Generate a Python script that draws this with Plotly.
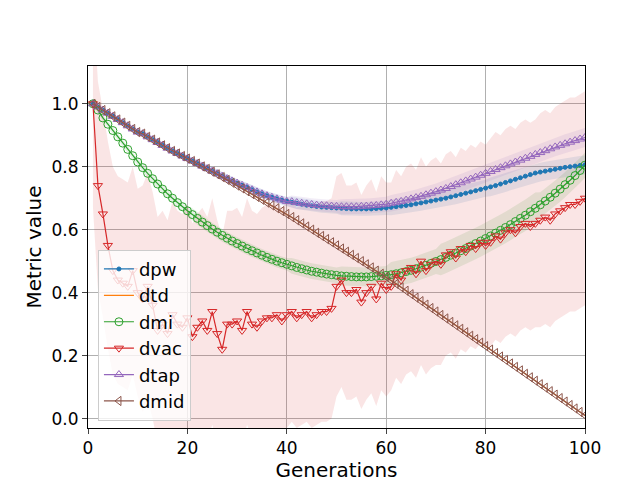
import plotly.graph_objects as go

generations = list(range(1, 101))

dpw = [1.0, .99, .98, .97, .96, .95, .94, .93, .92, .91,
       .905, .895, .886, .877, .868, .859, .85, .842, .834, .826,
       .818, .81, .802, .794, .786, .778, .77, .762, .755, .748,
       .741, .734, .727, .72, .714, .708, .703, .698, .694, .69,
       .687, .684, .681, .678, .676, .674, .672, .671, .67, .669,
       .668, .667, .666, .666, .666, .666, .666, .667, .668, .669,
       .671, .673, .675, .677, .679, .682, .685, .688, .691, .694,
       .697, .700, .704, .708, .712, .716, .72, .724, .728, .732,
       .736, .74, .745, .75, .755, .76, .765, .77, .775, .78,
       .783, .786, .789, .792, .795, .798, .80, .802, .804, .806]

dmid = [1.00, .99, .98, .97, .96, .95, .94, .93, .92, .91,
        .905, .895, .886, .877, .868, .859, .85, .842, .834, .826,
        .818, .81, .801, .793, .784, .776, .767, .758, .749, .74,
        .731, .722, .713, .704, .695, .686, .677, .668, .659, .65,
        .64, .63, .62, .61, .60, .59, .58, .57, .56, .55,
        .54, .53, .52, .51, .50, .49, .48, .47, .46, .45,
        .439, .428, .417, .406, .395, .384, .373, .362, .351, .34,
        .329, .318, .307, .296, .285, .274, .263, .252, .241, .23,
        .219, .208, .197, .186, .175, .164, .153, .142, .131, .12,
        .109, .098, .087, .076, .065, .054, .043, .032, .021, .01]

dtd = [1.00, .99, .98, .97, .96, .95, .94, .93, .92, .91,
       .905, .895, .886, .877, .868, .859, .85, .842, .834, .826,
       .818, .81, .801, .793, .784, .776, .767, .758, .749, .74,
       .731, .722, .713, .704, .695, .686, .677, .668, .659, .65,
       .64, .63, .62, .61, .60, .59, .58, .57, .56, .55,
       .54, .53, .52, .51, .50, .49, .48, .47, .46, .45,
       .439, .428, .417, .406, .395, .384, .373, .362, .351, .34,
       .329, .318, .307, .296, .285, .274, .263, .252, .241, .23,
       .219, .208, .197, .186, .175, .164, .153, .142, .131, .12,
       .109, .098, .087, .076, .065, .054, .043, .032, .021, .01]

dtap = [1.0, .99, .98, .97, .96, .95, .94, .93, .92, .91,
        .905, .895, .886, .877, .868, .859, .85, .842, .834, .826,
        .818, .81, .802, .794, .786, .778, .77, .762, .755, .748,
        .741, .734, .727, .72, .714, .708, .703, .698, .694, .69,
        .689, .686, .684, .682, .68, .678, .677, .676, .675, .674,
        .673, .673, .673, .673, .674, .675, .676, .677, .679, .681,
        .684, .687, .690, .694, .698, .702, .706, .711, .716, .721,
        .726, .731, .737, .743, .749, .755, .761, .767, .773, .779,
        .785, .791, .797, .803, .809, .815, .821, .827, .833, .839,
        .845, .851, .857, .863, .868, .873, .878, .883, .888, .893]

dmi = [1.0, .98, .955, .935, .915, .895, .875, .855, .835, .815,
       .797, .779, .762, .745, .729, .714, .70, .686, .673, .66,
       .648, .636, .624, .613, .602, .592, .582, .573, .564, .556,
       .548, .54, .533, .526, .519, .512, .506, .50, .495, .49,
       .485, .48, .476, .472, .468, .465, .462, .459, .457, .455,
       .453, .452, .451, .45, .45, .45, .451, .452, .453, .455,
       .457, .46, .463, .467, .471, .476, .481, .487, .493, .499,
       .505, .512, .519, .526, .533, .54, .548, .556, .564, .572,
       .58, .589, .598, .607, .616, .626, .636, .646, .657, .668,
       .679, .691, .703, .716, .729, .743, .757, .772, .788, .805]

dvac = [1.0, .74, .65, .55, .47, .44, .43, .42, .47, .40,
        .38, .42, .36, .28, .30, .27, .33, .30, .29, .32,
        .26, .29, .31, .28, .34, .27, .22, .30, .30, .31,
        .28, .34, .30, .29, .31, .32, .32, .33, .31, .33,
        .34, .32, .33, .34, .32, .33, .34, .34, .35, .42,
        .44, .40, .40, .41, .37, .40, .42, .38, .43, .41,
        .42, .46, .44, .47, .48, .46, .50, .47, .49, .50,
        .49, .52, .53, .51, .54, .53, .55, .54, .56, .55,
        .56, .58, .57, .59, .60, .59, .61, .62, .61, .62,
        .63, .64, .63, .65, .66, .67, .68, .68, .69, .70]

# spread per block of 10 generations
dpw_sd = [.005, .01, .012, .014, .018, .022, .025, .027, .03, .03]
dtap_sd = [.005, .01, .012, .014, .02, .024, .026, .028, .03, .03]
dmi_sd = [.01, .015, .02, .02, .025, .03, .04, .05, .05, .04]
dvac_sd = [.33, .36, .36, .36, .35, .34, .33, .32, .33, .34]

series = [
    ("dpw", dpw, dpw_sd, "#1f77b4", "circle", 4, "lines+markers"),
    ("dtd", dtd, None, "#ff7f0e", "circle", 4, "lines"),
    ("dmi", dmi, dmi_sd, "#2ca02c", "circle-open", 8, "lines+markers"),
    ("dvac", dvac, dvac_sd, "#d62728", "triangle-down-open", 8, "lines+markers"),
    ("dtap", dtap, dtap_sd, "#9467bd", "triangle-up-open", 8, "lines+markers"),
    ("dmid", dmid, None, "#8c564b", "triangle-left-open", 8, "lines+markers"),
]

def rgba(hexc, a):
    h = hexc.lstrip("#")
    return "rgba(%d,%d,%d,%s)" % (int(h[0:2], 16), int(h[2:4], 16), int(h[4:6], 16), a)

fig = go.Figure()
for name, ys, sd, col, sym, size, mode in series:
    if sd is None:
        continue
    s = [sd[(g - 1) // 10] for g in generations]
    up = [y + e for y, e in zip(ys, s)]
    lo = [y - e for y, e in zip(ys, s)]
    fig.add_trace(go.Scatter(x=generations, y=up, mode="lines", line=dict(width=0),
                             showlegend=False, hoverinfo="skip"))
    fig.add_trace(go.Scatter(x=generations, y=lo, mode="lines", line=dict(width=0),
                             fill="tonexty", fillcolor=rgba(col, 0.12),
                             showlegend=False, hoverinfo="skip"))

for name, ys, sd, col, sym, size, mode in series:
    fig.add_trace(go.Scatter(x=generations, y=ys, name=name, mode=mode,
                             line=dict(color=col, width=1.2),
                             marker=dict(symbol=sym, size=size, color=col,
                                         line=dict(color=col, width=1))))

fig.update_layout(
    width=640, height=480, plot_bgcolor="white", paper_bgcolor="white",
    margin=dict(l=80, r=63, t=58, b=60),
    font=dict(family="DejaVu Sans", size=17, color="black"),
    legend=dict(x=0.02, y=0.02, xanchor="left", yanchor="bottom", traceorder="normal",
                bgcolor="rgba(255,255,255,0.8)", bordercolor="#cccccc",
                borderwidth=1, font=dict(size=18), tracegroupgap=0),
)
fig.update_xaxes(range=[0, 100], dtick=20, title_text="Generations", showgrid=True,
                 gridcolor="#b0b0b0", ticks="outside", showline=True, linecolor="black",
                 mirror=True, zeroline=False, title_standoff=0)
fig.update_yaxes(range=[-0.03, 1.12], dtick=0.2, tickformat=".1f", title_text="Metric value",
                 showgrid=True, gridcolor="#b0b0b0", ticks="outside", showline=True,
                 linecolor="black", mirror=True, zeroline=False, title_standoff=4)

fig.write_html("out.html")
